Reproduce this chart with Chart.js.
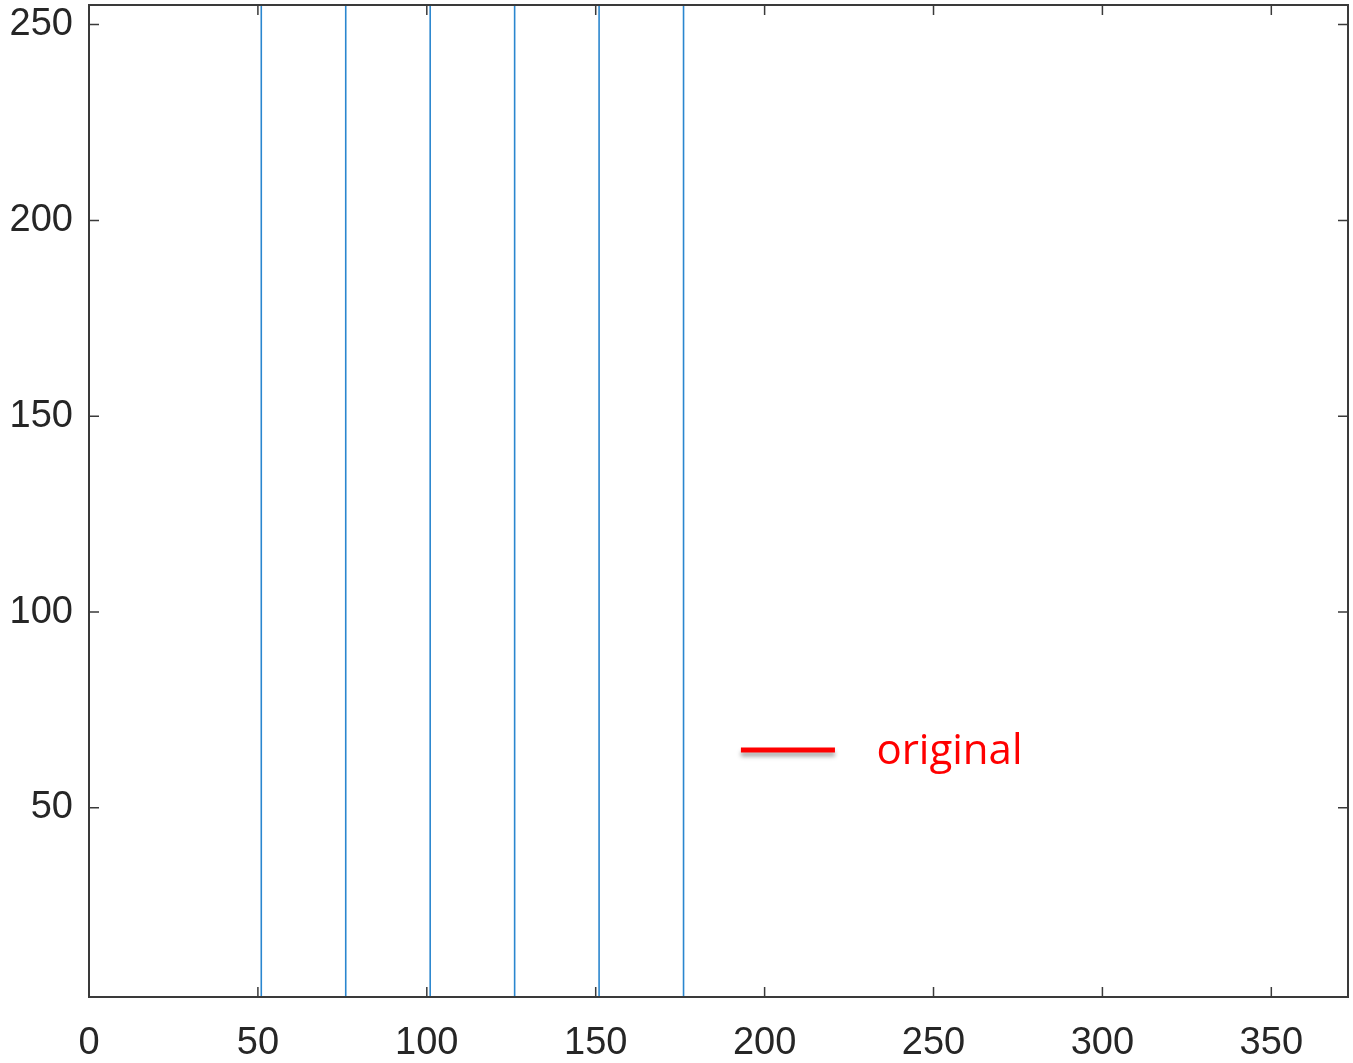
<!DOCTYPE html>
<html>
<head>
<meta charset="utf-8">
<script src="https://cdn.jsdelivr.net/npm/chart.js@4"></script>
<style>
  html, body { margin: 0; padding: 0; background: #ffffff; }
  #chartContainer { width: 1353px; height: 1063px; position: relative; }
</style>
</head>
<body>
<div id="chartContainer"><canvas id="myChart"></canvas></div>
<script>
// Data
const lineX = [51, 76, 101, 126, 151, 176]   // vertical line positions
const xRange = [0, 372.7]
const yRange = [1.7, 255]
const xTicks = [0, 50, 100, 150, 200, 250, 300, 350]
const yTicks = [50, 100, 150, 200, 250]
const legendLabel = 'original'

// One dataset per vertical line (bottom to top of the y range)
let datasets = lineX.map(x => ({
    data: [{ x: x, y: yRange[0] }, { x: x, y: yRange[1] }],
    borderColor: '#2a86cf',
    borderWidth: 1.6,
    pointRadius: 0,
    showLine: true,
    fill: false
}))
// The legend entry (no visible data)
datasets.push({ label: legendLabel, data: [], borderColor: '#ff0000', borderWidth: 5, pointRadius: 0, showLine: true })

// Box plus inward ticks on all four sides, and the legend inside the plot
const boxPlugin = {
    id: 'boxPlugin',
    afterDraw(chart) {
        const ctx = chart.ctx
        const a = chart.chartArea
        const xs = chart.scales.x
        const ys = chart.scales.y
        const len = 10
        ctx.save()
        ctx.strokeStyle = '#3a3a3a'
        ctx.lineWidth = 2
        ctx.strokeRect(a.left, a.top, a.right - a.left, a.bottom - a.top)
        ctx.lineWidth = 1.5
        ctx.beginPath()
        xTicks.forEach(v => {
            let px = xs.getPixelForValue(v)
            ctx.moveTo(px, a.bottom); ctx.lineTo(px, a.bottom - len)
            ctx.moveTo(px, a.top); ctx.lineTo(px, a.top + len)
        })
        yTicks.forEach(v => {
            let py = ys.getPixelForValue(v)
            ctx.moveTo(a.left, py); ctx.lineTo(a.left + len, py)
            ctx.moveTo(a.right, py); ctx.lineTo(a.right - len, py)
        })
        ctx.stroke()

        // legend
        const ds = chart.data.datasets[chart.data.datasets.length - 1]
        const w = a.right - a.left
        const h = a.bottom - a.top
        const lx0 = a.left + w * 0.5178
        const lx1 = a.left + w * 0.5925
        const ly = a.top + h * 0.7510
        ctx.shadowColor = 'rgba(0,0,0,0.35)'
        ctx.shadowOffsetY = 4
        ctx.shadowBlur = 4
        ctx.strokeStyle = ds.borderColor
        ctx.lineWidth = ds.borderWidth
        ctx.beginPath()
        ctx.moveTo(lx0, ly); ctx.lineTo(lx1, ly)
        ctx.stroke()
        ctx.shadowColor = 'transparent'
        ctx.fillStyle = ds.borderColor
        ctx.font = '42px "Open Sans", sans-serif'
        ctx.textBaseline = 'alphabetic'
        ctx.textAlign = 'left'
        ctx.fillText(ds.label, a.left + w * 0.6254, ly + 14)
        ctx.restore()
    }
}

const ctx = document.getElementById('myChart').getContext('2d')
const myChart = new Chart(ctx, {
    type: 'scatter',
    data: { datasets: datasets },
    options: {
        responsive: true,
        maintainAspectRatio: false,
        animation: false,
        layout: { padding: { top: 5, right: 5, left: 0, bottom: 0 } },
        plugins: { legend: { display: false }, tooltip: { enabled: false } },
        scales: {
            x: {
                type: 'linear',
                min: xRange[0],
                max: xRange[1],
                afterBuildTicks: scale => { scale.ticks = xTicks.map(v => ({ value: v })) },
                afterFit: scale => { scale.height = 66; scale.paddingLeft = 0; scale.paddingRight = 0 },
                grid: { display: false },
                border: { display: false },
                ticks: {
                    color: '#262626',
                    padding: 16,
                    maxRotation: 0,
                    autoSkip: false,
                    font: { family: '"Liberation Sans", Arial, sans-serif', size: 38 }
                }
            },
            y: {
                type: 'linear',
                min: yRange[0],
                max: yRange[1],
                afterBuildTicks: scale => { scale.ticks = yTicks.map(v => ({ value: v })) },
                afterFit: scale => { scale.width = 89; scale.paddingTop = 0; scale.paddingBottom = 0 },
                grid: { display: false },
                border: { display: false },
                ticks: {
                    color: '#262626',
                    padding: 8,
                    autoSkip: false,
                    font: { family: '"Liberation Sans", Arial, sans-serif', size: 38 }
                }
            }
        }
    },
    plugins: [boxPlugin]
})
</script>
</body>
</html>
